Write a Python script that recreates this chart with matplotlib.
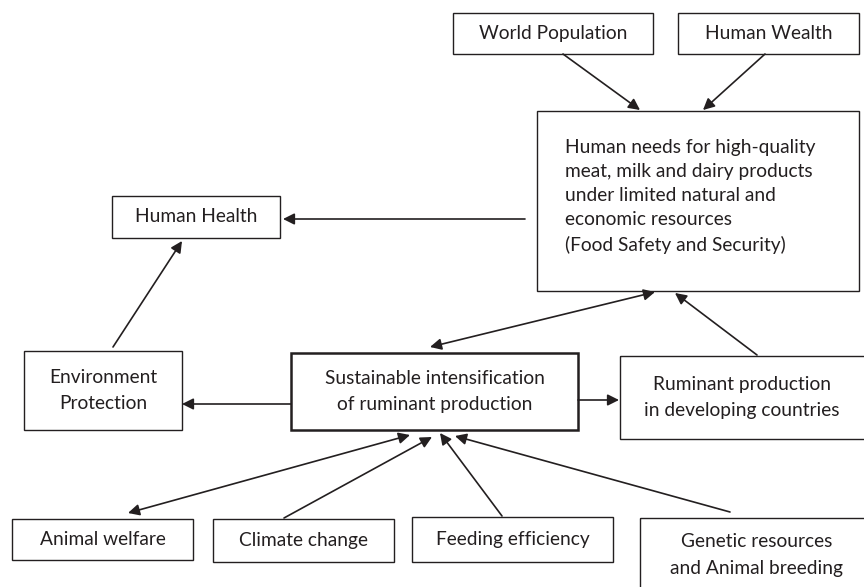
'''flow diagram: sustainable intensification of ruminant production'''

import matplotlib
matplotlib.use('Agg')
from matplotlib import pyplot as plt
from matplotlib.patches import Rectangle

# box labels
labels = ['World Population', 'Human Wealth',
          'Human needs for high-quality\nmeat, milk and dairy products\n'
          'under limited natural and\neconomic resources\n(Food Safety and Security)',
          'Human Health', 'Environment\nProtection',
          'Sustainable intensification\nof ruminant production',
          'Ruminant production\nin developing countries',
          'Animal welfare', 'Climate change', 'Feeding efficiency',
          'Genetic resources\nand Animal breeding']

# layout in pixels: left, top, right, bottom
boxes = [(453, 13, 653, 54), (678, 13, 859, 54), (537, 111, 859, 291),
         (112, 196, 280, 238), (24, 351, 182, 430), (291, 353, 578, 430),
         (620, 356, 870, 439), (12, 519, 193, 560), (213, 519, 394, 562),
         (412, 517, 613, 562), (640, 518, 870, 600)]

# arrows: start, end, double headed
arrows = [((563, 54), (640, 110), False),
          ((765, 54), (703, 110), False),
          ((525, 219), (283, 219), False),
          ((113, 347), (182, 241), False),
          ((291, 404), (182, 404), False),
          ((578, 400), (619, 400), False),
          ((430, 347), (655, 292), True),
          ((757, 355), (675, 293), False),
          ((128, 513), (410, 435), True),
          ((284, 518), (432, 437), False),
          ((502, 516), (440, 433), False),
          ((730, 512), (455, 436), False)]

INK = '#231f20'
FS = 13.8
plt.rcParams['font.family'] = ['Lato', 'DejaVu Sans']

fig = plt.figure(figsize=(8.64, 5.87), dpi=100)
ax = fig.add_axes([0, 0, 1, 1])
ax.set_xlim(0, 864)
ax.set_ylim(587, 0)
ax.axis('off')

for i, (lab, (x0, y0, x1, y1)) in enumerate(zip(labels, boxes)):
    lw = 1.8 if i == 5 else 1.0
    ax.add_patch(Rectangle((x0, y0), x1 - x0, y1 - y0, fill=False,
                           edgecolor=INK, lw=lw, clip_on=False))
    if i == 2:
        ax.text(565, 139, lab, ha='left', va='top', fontsize=FS,
                color=INK, linespacing=1.5)
    elif i == 10:
        ax.text(757, 555, lab, ha='center', va='center', fontsize=FS,
                color=INK, linespacing=1.65)
    else:
        ax.text((x0 + min(x1, 864)) / 2 if i != 6 else 742, (y0 + y1) / 2, lab,
                ha='center', va='center', fontsize=FS, color=INK,
                linespacing=1.65)

for (s, e, both) in arrows:
    style = '<|-|>' if both else '-|>'
    ax.annotate('', xy=e, xytext=s,
                arrowprops=dict(arrowstyle=style, color=INK, lw=1.2,
                                mutation_scale=17, shrinkA=0, shrinkB=0))

fig.savefig('out.png', dpi=100)
